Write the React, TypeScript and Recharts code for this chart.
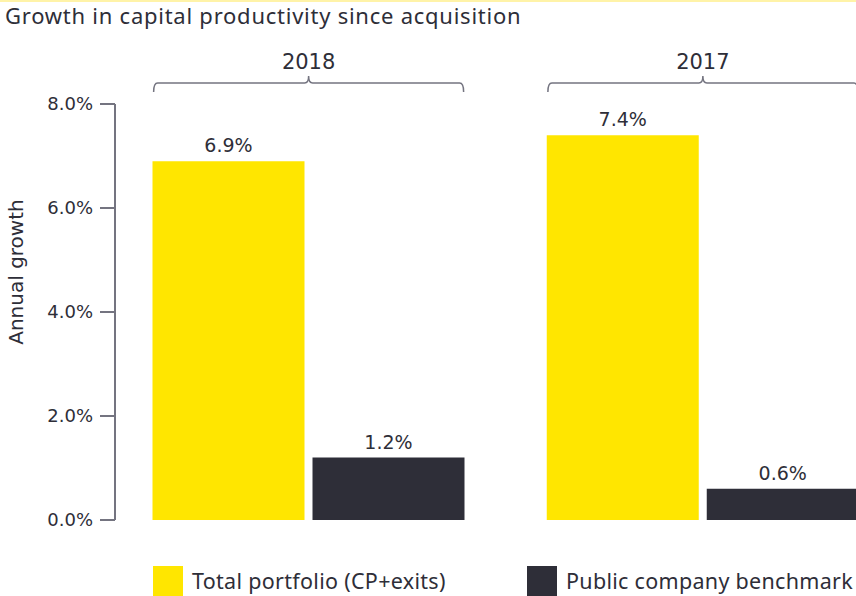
import React from 'react';
import { BarChart, Bar, XAxis, YAxis, LabelList } from 'recharts';

const years = ['2018', '2017'];
const portfolio = [6.9, 7.4];
const benchmark = [1.2, 0.6];
const yTicks = [0, 2, 4, 6, 8];
const seriesNames = ['Total portfolio (CP+exits)', 'Public company benchmark'];
const seriesColors = ['#FFE600', '#2E2E38'];

const data = years.map((y, i) => ({ year: y, portfolio: portfolio[i], benchmark: benchmark[i] }));

const DARK = '#2E2E38';
const GRAY = '#747480';
const NUM_FONT = '"DejaVu Sans", sans-serif';
const TEXT_FONT = '"Noto Sans", "Open Sans", sans-serif';

const BracketTick = (props: any) => {
  const { x, y, payload } = props;
  const half = 155;
  const ly = y - 21;
  const d = `M ${x - half} ${ly + 9} Q ${x - half} ${ly} ${x - half + 4} ${ly} L ${x - 4} ${ly} Q ${x} ${ly} ${x} ${ly - 7} Q ${x} ${ly} ${x + 4} ${ly} L ${x + half - 4} ${ly} Q ${x + half} ${ly} ${x + half} ${ly + 9}`;
  return (
    <g>
      <path d={d} fill="none" stroke={GRAY} strokeWidth={1.5} />
      <text x={x} y={y - 35} textAnchor="middle" fontFamily={NUM_FONT} fontSize={21} fill={DARK}>
        {payload.value}
      </text>
    </g>
  );
};

const YLabel = () => (
  <text
    x={16}
    y={272}
    transform="rotate(-90 16 272)"
    textAnchor="middle"
    dominantBaseline="central"
    fontFamily={NUM_FONT}
    fontSize={20}
    fill={DARK}
  >
    Annual growth
  </text>
);

export default function App() {
  return (
    <div
      style={{
        position: 'fixed',
        left: 0,
        top: 0,
        width: 856,
        height: 596,
        overflow: 'hidden',
        background: '#fff',
      }}
    >
      <div style={{ position: 'absolute', left: 0, top: 0, width: 856, height: 2, background: '#FFF3A8' }} />
      <div
        style={{
          position: 'absolute',
          left: 5,
          top: 0,
          fontFamily: TEXT_FONT,
          fontSize: 22,
          letterSpacing: 0.75,
          lineHeight: '30px',
          color: DARK,
          whiteSpace: 'nowrap',
        }}
      >
        Growth in capital productivity since acquisition
      </div>
      <div style={{ position: 'absolute', left: 0, top: 0 }}>
        <BarChart
          width={900}
          height={596}
          data={data}
          margin={{ top: 64, right: 0, bottom: 76, left: 0 }}
          barSize={152}
          barGap={8}
        >
          <XAxis
            dataKey="year"
            xAxisId="top"
            orientation="top"
            height={40}
            axisLine={false}
            tickLine={false}
            tickSize={0}
            tickMargin={0}
            padding={{ left: -3.5, right: 0 }}
            tick={<BracketTick />}
            interval={0}
          />
          <XAxis
            dataKey="year"
            height={0}
            tick={false}
            tickLine={false}
            axisLine={{ stroke: GRAY, strokeWidth: 2 }}
            padding={{ left: -3.5, right: 0 }}
          />
          <YAxis
            width={115}
            domain={[0, 8]}
            ticks={yTicks}
            interval={0}
            tickSize={15}
            tickMargin={7}
            tickFormatter={(v: number) => `${v.toFixed(1)}%`}
            tick={{ fontFamily: NUM_FONT, fontSize: 18, fill: DARK }}
            tickLine={{ stroke: GRAY, strokeWidth: 2 }}
            axisLine={{ stroke: GRAY, strokeWidth: 2 }}
            label={<YLabel />}
          />
          <Bar dataKey="portfolio" fill={seriesColors[0]} isAnimationActive={false}>
            <LabelList
              dataKey="portfolio"
              position="top"
              offset={9}
              formatter={(v: any) => `${Number(v).toFixed(1)}%`}
              style={{ fontFamily: NUM_FONT, fontSize: 19, fill: DARK }}
            />
          </Bar>
          <Bar dataKey="benchmark" fill={seriesColors[1]} isAnimationActive={false}>
            <LabelList
              dataKey="benchmark"
              position="top"
              offset={9}
              formatter={(v: any) => `${Number(v).toFixed(1)}%`}
              style={{ fontFamily: NUM_FONT, fontSize: 19, fill: DARK }}
            />
          </Bar>
        </BarChart>
      </div>
      <div
        style={{
          position: 'absolute',
          left: 153,
          top: 566,
          display: 'flex',
          fontFamily: TEXT_FONT,
          fontSize: 21.5,
          letterSpacing: 0.3,
          color: DARK,
        }}
      >
        {seriesNames.map((n, i) => (
          <div key={n} style={{ display: 'flex', alignItems: 'center', width: i === 0 ? 374 : 329, whiteSpace: 'nowrap' }}>
            <div style={{ width: 30, height: 30, background: seriesColors[i], marginRight: 9, flexShrink: 0 }} />
            <span style={{ lineHeight: '30px' }}>{n}</span>
          </div>
        ))}
      </div>
    </div>
  );
}
